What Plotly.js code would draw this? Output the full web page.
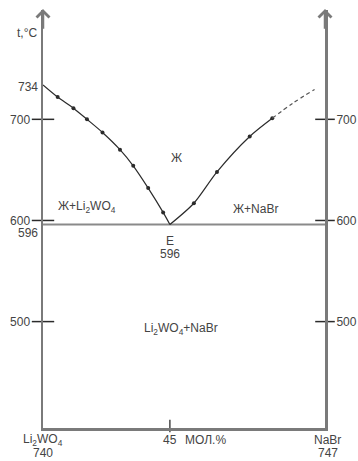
<!DOCTYPE html>
<html>
<head>
<meta charset="utf-8">
<script src="https://cdn.plot.ly/plotly-3.0.1.min.js"></script>
<style>
  html, body { margin: 0; padding: 0; background: #fff; }
  #chart { width: 358px; height: 461px; }
</style>
</head>
<body>
<div id="chart"></div>
<script>
// Liquidus of Li2WO4 (left branch), mol.% NaBr vs t,°C
const xLeft = [0, 5.2, 10.8, 15.6, 21.1, 27.3, 32.0, 37.3, 42.6, 45];
const tLeft = [734, 722, 711, 700, 687, 670, 654, 632, 608, 596];
// Liquidus of NaBr (right branch)
const xRight = [45, 53.5, 61.7, 73.3, 81.3];
const tRight = [596, 617, 648, 683, 701];
// Dashed extrapolation
const xDash = [81.3, 88.6, 96.3];
const tDash = [701, 716, 729.5];
// Eutectic
const eutX = 45;
const eutT = 596;
const meltLeft = 734;
// Axis ticks
const tickVals = [500, 600, 700];
const tickText = ['500', '600', '700'];
const xTickVals = [45];
const yMin = 394.8, yMax = 808.1;

const dark = '#2b2b2b';
const axisGray = '#7a7a7a';
const txt = '#444';
const fnt = { family: 'Liberation Sans, Arial, sans-serif', size: 12, color: txt };

const traces = [
  // eutectic horizontal
  { x: [0, 100], y: [eutT, eutT], mode: 'lines', line: { color: '#8a8a8a', width: 2 }, hoverinfo: 'skip', cliponaxis: false },
  // left liquidus
  { x: xLeft, y: tLeft, mode: 'lines', line: { color: dark, width: 1.2, shape: 'spline', smoothing: 0.8 }, hoverinfo: 'skip' },
  { x: xLeft.slice(1, -1), y: tLeft.slice(1, -1), mode: 'markers', marker: { color: dark, size: 4 }, hoverinfo: 'skip' },
  // right liquidus
  { x: xRight, y: tRight, mode: 'lines', line: { color: dark, width: 1.2, shape: 'spline', smoothing: 0.8 }, hoverinfo: 'skip' },
  { x: xRight.slice(1), y: tRight.slice(1), mode: 'markers', marker: { color: dark, size: 4 }, hoverinfo: 'skip' },
  // dashed extrapolation
  { x: xDash, y: tDash, mode: 'lines', line: { color: '#555', width: 1.2, dash: '4px,3px', shape: 'spline' }, hoverinfo: 'skip' },
  // tick marks crossing the vertical axes
  { x: tickVals.map(() => 0), y: tickVals, mode: 'markers', cliponaxis: false,
    marker: { symbol: 'line-ew-open', size: 16, color: dark, line: { color: dark, width: 1.5 } }, hoverinfo: 'skip' },
  { x: tickVals.map(() => 100), y: tickVals, mode: 'markers', cliponaxis: false,
    marker: { symbol: 'line-ew-open', size: 14, color: dark, line: { color: dark, width: 1.5 } }, hoverinfo: 'skip' },
  // tick mark on composition axis
  { x: xTickVals, y: xTickVals.map(() => yMin + 2), mode: 'markers', cliponaxis: false,
    marker: { symbol: 'line-ns-open', size: 9, color: dark, line: { color: dark, width: 1.3 } }, hoverinfo: 'skip' }
];

function px2paperX(v) { return v / 100; }
function bottomLabel(x, text, row, anchor) {
  return { xref: 'paper', yref: 'paper', x: px2paperX(x), y: row === 0 ? -0.0287 : -0.0598,
    text: text, showarrow: false, xanchor: anchor || 'center', yanchor: 'middle', font: fnt };
}
function capArrow(x) {
  return { xref: 'x', yref: 'y', axref: 'x', ayref: 'y', x: x, y: yMax + 1, ax: x, ay: yMax - 20,
    text: '', showarrow: true, arrowhead: 4, arrowwidth: 2.5, arrowsize: 1, arrowcolor: axisGray };
}

const annotations = [
  capArrow(0), capArrow(100),
  { xref: 'paper', yref: 'y', x: -0.055, y: 785, text: 't,°C', showarrow: false, font: fnt, xanchor: 'center', yanchor: 'middle' },
  { xref: 'x', yref: 'y', x: 0, y: meltLeft, text: String(meltLeft), showarrow: false, font: fnt, xanchor: 'right', yanchor: 'middle', xshift: -3, yshift: -2 },
  { xref: 'x', yref: 'y', x: 0, y: eutT, text: String(eutT), showarrow: false, font: fnt, xanchor: 'right', yanchor: 'middle', xshift: -3, yshift: -8.5 },
  { xref: 'x', yref: 'y', x: 47.2, y: 662, text: 'Ж', showarrow: false, font: fnt },
  { xref: 'x', yref: 'y', x: 15.6, y: 613, text: 'Ж+Li<sub>2</sub>WO<sub>4</sub>', showarrow: false, font: fnt },
  { xref: 'x', yref: 'y', x: 75.2, y: 611, text: 'Ж+NaBr', showarrow: false, font: fnt },
  { xref: 'x', yref: 'y', x: eutX, y: eutT, text: 'E', showarrow: false, font: fnt, yanchor: 'middle', yshift: -16 },
  { xref: 'x', yref: 'y', x: eutX, y: eutT, text: String(eutT), showarrow: false, font: fnt, yanchor: 'middle', yshift: -29 },
  { xref: 'x', yref: 'y', x: 48.9, y: 493, text: 'Li<sub>2</sub>WO<sub>4</sub>+NaBr', showarrow: false, font: fnt },
  bottomLabel(0, 'Li<sub>2</sub>WO<sub>4</sub>', 0),
  bottomLabel(0, '740', 1),
  bottomLabel(45, '45', 0),
  bottomLabel(49.6, 'МОЛ.%', 0, 'left'),
  bottomLabel(101, 'NaBr', 0),
  bottomLabel(101, '747', 1)
];

const layout = {
  width: 358, height: 461,
  margin: { l: 43, r: 33, t: 10, b: 33, pad: 0 },
  paper_bgcolor: '#fff', plot_bgcolor: '#fff',
  showlegend: false,
  font: fnt,
  xaxis: { range: [0, 100], showgrid: false, zeroline: false, showline: true, linecolor: axisGray, linewidth: 2.5,
    showticklabels: false, ticks: '', fixedrange: true },
  yaxis: { range: [yMin, yMax], showgrid: false, zeroline: false, showline: true, mirror: true, linecolor: axisGray, linewidth: 2.5,
    tickvals: tickVals, ticktext: tickText, ticks: 'outside', ticklen: 8, tickcolor: 'rgba(0,0,0,0)', tickfont: fnt, fixedrange: true },
  yaxis2: { range: [yMin, yMax], overlaying: 'y', side: 'right', showgrid: false, zeroline: false, showline: false,
    tickvals: tickVals, ticktext: tickText, ticks: 'outside', ticklen: 8, tickcolor: 'rgba(0,0,0,0)', tickfont: fnt, fixedrange: true },
  annotations: annotations
};

// invisible trace to activate yaxis2
traces.push({ x: [100], y: [yMin], yaxis: 'y2', mode: 'markers', marker: { opacity: 0 }, hoverinfo: 'skip' });

Plotly.newPlot('chart', traces, layout, { staticPlot: true, displayModeBar: false });
</script>
</body>
</html>
